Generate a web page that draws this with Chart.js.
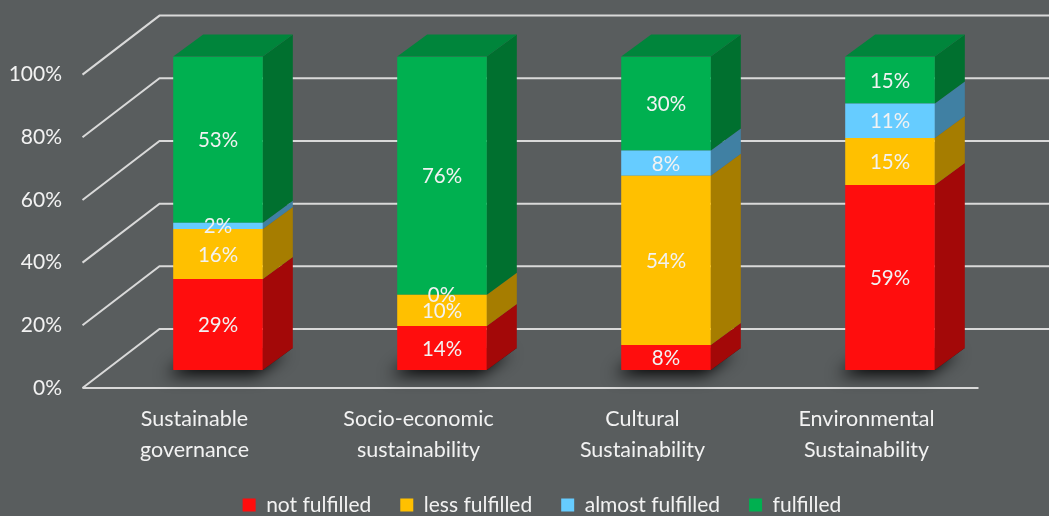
<!DOCTYPE html>
<html><head><meta charset="utf-8">
<script src="https://cdn.jsdelivr.net/npm/chart.js@4.4.1/dist/chart.umd.min.js"></script>
<style>html,body{margin:0;padding:0;background:#595d5e;overflow:hidden}#wrap{width:1049px;height:516px;}</style>
</head><body><div id="wrap"><canvas id="c" width="1049" height="516"></canvas></div>
<script>
const categories = [["Sustainable","governance"],["Socio-economic","sustainability"],["Cultural","Sustainability"],["Environmental","Sustainability"]];
const seriesNames = ["not fulfilled","less fulfilled","almost fulfilled","fulfilled"];
const notFulfilled = [29,14,8,59];
const lessFulfilled = [16,10,54,15];
const almostFulfilled = [2,0,8,11];
const fulfilled = [53,76,30,15];
const yTicks = [0,20,40,60,80,100];

const seriesValues = [notFulfilled, lessFulfilled, almostFulfilled, fulfilled];
const frontColors = ['#ff0d0d','#ffc000','#66ccff','#00b050'];
const sideColors  = ['#a30808','#a67d00','#4080a3','#00702f'];
const topColors   = ['#b00a0a','#b38a00','#4a90b8','#00853b'];
const BG = '#595d5e';
const TXT = '#f2f2f2';
const FONT = 'Lato';
// 3D offsets relative to the bar front plane
const D = {fdx:-23.5, fdy:18, bdx:53.5, bdy:-41, barDx:30, barDy:-22};
const LEGEND_SHIFT = 41;

const threeD = {
  id:'threeD',
  afterLayout(chart){
    if (chart.legend) { chart.legend.left += LEGEND_SHIFT; chart.legend.right += LEGEND_SHIFT; }
  },
  beforeDraw(chart){
    const c = chart.ctx; c.save(); c.fillStyle = BG; c.fillRect(0,0,chart.width,chart.height); c.restore();
  },
  beforeDatasetsDraw(chart){
    const c = chart.ctx, ys = chart.scales.y, a = chart.chartArea;
    c.save();
    c.strokeStyle = '#d9d9d9'; c.lineWidth = 2; c.lineCap = 'butt';
    yTicks.forEach(v => {
      const y = ys.getPixelForValue(v);
      c.beginPath();
      c.moveTo(a.left + D.fdx, y + D.fdy);
      c.lineTo(a.left + D.bdx, y + D.bdy);
      c.lineTo(chart.width + 5, y + D.bdy);
      c.stroke();
    });
    const y0 = ys.getPixelForValue(0);
    c.beginPath();
    c.moveTo(a.left + D.fdx, y0 + D.fdy);
    c.lineTo(a.right + D.fdx, y0 + D.fdy);
    c.stroke();
    c.restore();

    const metas = chart.data.datasets.map((d,i) => chart.getDatasetMeta(i));
    const n = chart.data.labels.length;
    // shadows
    for (let i = 0; i < n; i++) {
      const el = metas[0].data[i].getProps(['x','y','base','width'], true);
      const xl = el.x - el.width/2, xr = el.x + el.width/2;
      c.save();
      c.shadowColor = 'rgba(0,0,0,0.95)'; c.shadowBlur = 16; c.shadowOffsetX = -7; c.shadowOffsetY = 5;
      c.fillStyle = '#1e1e1e';
      c.beginPath();
      c.moveTo(xl, y0); c.lineTo(xr, y0); c.lineTo(xr + D.barDx, y0 + D.barDy); c.lineTo(xl + D.barDx, y0 + D.barDy);
      c.closePath(); c.fill();
      c.restore();
    }
    // side faces
    c.save();
    metas.forEach((m, k) => {
      m.data.forEach((bar, i) => {
        if (!seriesValues[k][i]) return;
        const el = bar.getProps(['x','y','base','width'], true);
        const xr = el.x + el.width/2;
        c.fillStyle = sideColors[k];
        c.beginPath();
        c.moveTo(xr, el.y); c.lineTo(xr + D.barDx, el.y + D.barDy);
        c.lineTo(xr + D.barDx, el.base + D.barDy); c.lineTo(xr, el.base);
        c.closePath(); c.fill();
      });
    });
    // top faces
    for (let i = 0; i < n; i++) {
      let k = metas.length - 1;
      while (k > 0 && !seriesValues[k][i]) k--;
      const el = metas[k].data[i].getProps(['x','y','base','width'], true);
      const xl = el.x - el.width/2, xr = el.x + el.width/2;
      c.fillStyle = topColors[k];
      c.beginPath();
      c.moveTo(xl, el.y); c.lineTo(xl + D.barDx, el.y + D.barDy);
      c.lineTo(xr + D.barDx, el.y + D.barDy); c.lineTo(xr, el.y);
      c.closePath(); c.fill();
    }
    c.restore();
  },
  afterDatasetsDraw(chart){
    const c = chart.ctx;
    c.save();
    c.font = '20.5px ' + FONT; c.fillStyle = TXT; c.textAlign = 'center'; c.textBaseline = 'middle';
    chart.data.datasets.forEach((d, k) => {
      chart.getDatasetMeta(k).data.forEach((bar, i) => {
        const el = bar.getProps(['x','y','base'], true);
        c.fillText(seriesValues[k][i] + '%', el.x, (el.y + el.base)/2 + 1);
      });
    });
    c.restore();
  }
};

new Chart(document.getElementById('c').getContext('2d'), {
  type: 'bar',
  data: {
    labels: categories,
    datasets: seriesValues.map((vals, i) => ({
      label: seriesNames[i], data: vals, backgroundColor: frontColors[i],
      borderWidth: 0, barPercentage: 0.4, categoryPercentage: 1
    }))
  },
  options: {
    responsive: false, animation: false, devicePixelRatio: 1,
    layout: {padding: {left: 0, right: 47, top: 54, bottom: -9.5}},
    scales: {
      x: {
        stacked: true,
        grid: {display: false, drawTicks: false}, border: {display: false},
        ticks: {color: TXT, font: {family: FONT, size: 21.5, lineHeight: 1.45}, padding: 33, labelOffset: -23.5, maxRotation: 0, autoSkip: false},
        afterFit: s => { s.height = 95.5; }
      },
      y: {
        stacked: true, min: 0, max: 100,
        grid: {display: false, drawTicks: false}, border: {display: false},
        afterBuildTicks: s => { s.ticks = yTicks.map(v => ({value: v})); },
        ticks: {color: TXT, font: {family: FONT, size: 21}, padding: 44, labelOffset: 18, callback: v => v + '%'},
        afterFit: s => { s.width = 106; }
      }
    },
    plugins: {
      legend: {position: 'bottom', labels: {color: TXT, font: {family: FONT, size: 21}, boxWidth: 13, boxHeight: 13, padding: 29}},
      tooltip: {enabled: false}
    }
  },
  plugins: [threeD]
});
</script></body></html>
